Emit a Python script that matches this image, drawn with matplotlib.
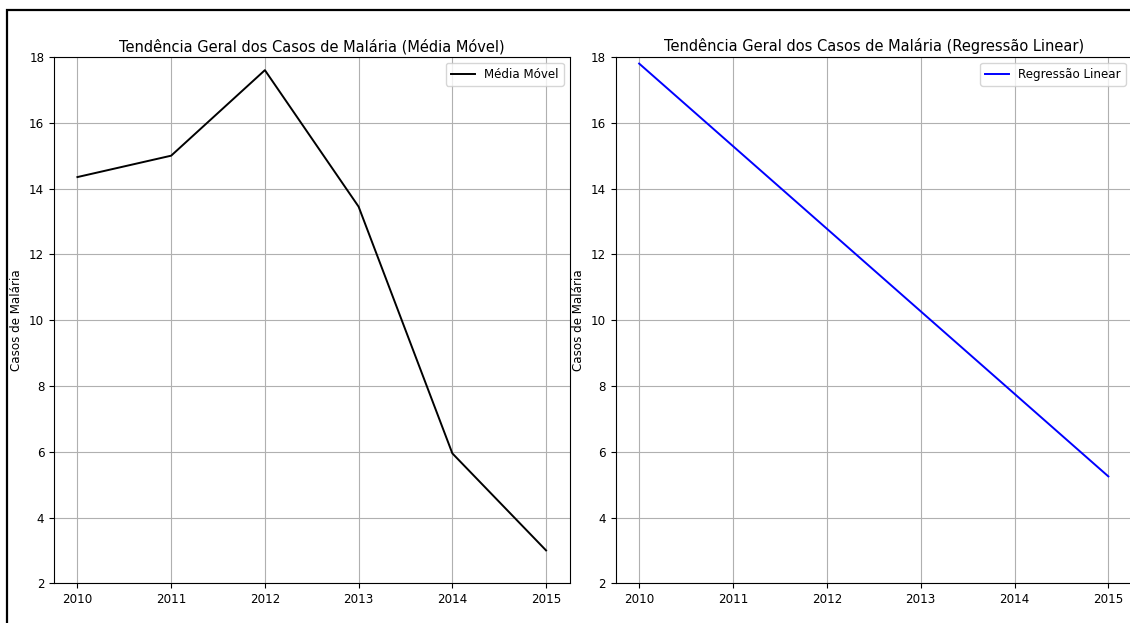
import matplotlib
matplotlib.use("Agg")
from matplotlib import pyplot as plt
from matplotlib.patches import Rectangle

# dados
anos = [2010, 2011, 2012, 2013, 2014, 2015]
media_movel = [14.35, 15.0, 17.6, 13.45, 5.95, 3.0]
regressao = [17.8, 15.29, 12.78, 10.27, 7.76, 5.25]

W, H = 1130, 623
fig = plt.figure(figsize=(W / 100, H / 100), dpi=100)

def px_axes(x0, y0, x1, y1):
    return fig.add_axes([x0 / W, 1 - y1 / H, (x1 - x0) / W, (y1 - y0) / H])

# moldura da figura (recortada à direita e em baixo)
fig.patches.append(Rectangle((7 / W, -0.1), 1.2, 1 - 10 / H + 0.1,
                             transform=fig.transFigure, fill=False,
                             edgecolor="black", linewidth=1.6))

ax1 = px_axes(54, 57, 569.5, 583.3)
ax2 = px_axes(615.7, 57, 1131.8, 583.3)

fs_tick = 8.6
fs_title = 10.5

ax1.plot(anos, media_movel, color="black", linewidth=1.4, label="Média Móvel")
ax1.set_title("Tendência Geral dos Casos de Malária (Média Móvel)", fontsize=fs_title, pad=4)
ax1.set_ylabel("Casos de Malária", fontsize=fs_tick)

ax2.plot(anos, regressao, color="blue", linewidth=1.4, label="Regressão Linear")
ax2.set_title("Tendência Geral dos Casos de Malária (Regressão Linear)", fontsize=fs_title, pad=4)
ax2.set_ylabel("Casos de Malária", fontsize=fs_tick)

for ax in (ax1, ax2):
    ax.set_ylim(2, 18)
    ax.set_xticks(anos)
    ax.tick_params(labelsize=fs_tick)
    ax.grid(True)
    ax.legend(loc="upper right", fontsize=fs_tick)

fig.savefig("out.png", dpi=100)
